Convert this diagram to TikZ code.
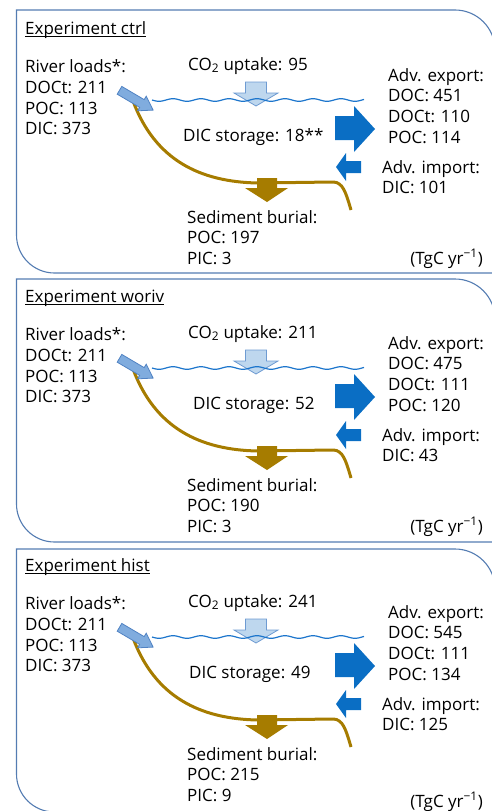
\documentclass[tikz,border=0pt]{standalone}
\usepackage{fontspec}
\setmainfont{Open Sans}
\definecolor{frameblue}{RGB}{84,124,178}
\definecolor{wavecol}{RGB}{28,117,204}
\definecolor{cotwofill}{RGB}{190,215,238}
\definecolor{cotwoline}{RGB}{110,155,210}
\definecolor{riverfill}{RGB}{128,172,222}
\definecolor{riverline}{RGB}{80,130,195}
\definecolor{advblue}{RGB}{10,110,196}
\definecolor{sedbrown}{RGB}{166,124,0}
\newcommand\rowtxt[1]{\hbox{#1}}
\newcommand\stk[1]{\vtop{\baselineskip=20.7pt\lineskiplimit=-20pt\lineskip=0pt #1}}
\tikzset{
  txt/.style={anchor=base west, inner sep=0pt, font=\fontsize{17}{20.7}\selectfont},
  panelframe/.style={draw=frameblue, line width=1.1pt},
  wavestyle/.style={draw=wavecol, line width=1.2pt},
  cotwoarrow/.style={draw=cotwoline, fill=cotwofill, line width=0.8pt},
  riverarrow/.style={draw=riverline, fill=riverfill, line width=0.8pt},
  advarrow/.style={fill=advblue},
  sedline/.style={draw=sedbrown, line width=3pt},
  sedarrow/.style={fill=sedbrown}
}
\begin{document}
\begin{tikzpicture}[x=1pt,y=-1pt]
\useasboundingbox (0,0) rectangle (492,811);
\clip (0,0) rectangle (492,811);
% panel frames
\foreach \ft/\fb in {10/273, 279/542, 549/812}{
  \draw[panelframe] (16.5,\ft) -- (455,\ft) arc[start angle=90,end angle=0,radius=40pt]
    -- (495,\fb) -- (54.5,\fb) arc[start angle=270,end angle=180,radius=38pt] -- cycle;
}
\foreach \i/\o/\ttl/\co/\da/\db/\dc/\st/\sx/\im/\bp/\pc/\ty in
  {1/0/ctrl/95/451/110/114/18**/183/101/197/3/264,
   2/268/woriv/211/475/111/120/52/193/43/190/3/264,
   3/537/hist/241/545/111/134/49/189/125/215/9/270}{
\begin{scope}[shift={(0,\o)}]
  % CO2 uptake arrow
  \draw[cotwoarrow] (245.5,82) -- (266.5,82) -- (266.5,93) -- (278,93) -- (256,106)
     -- (234,93) -- (245.5,93) -- cycle;
  % water surface
  \draw[wavestyle] plot[domain=152:364, samples=120, smooth] (\x, {100+1.3*sin((\x-152)*12.857)});
  % sediment curve
  \draw[sedline] (133,101) .. controls (155,160) and (200,182) .. (258,183)
     -- (333,182) .. controls (343,182) and (346,193) .. (351,210);
  % river arrow
  \begin{scope}[shift={(119.5,90.3)}, rotate=-30.5]
    \draw[riverarrow] (0,-4.5) -- (26,-4.5) -- (26,-8.5) -- (39,0) -- (26,8.5) -- (26,4.5) -- (0,4.5) -- cycle;
  \end{scope}
  % sediment burial arrow
  \fill[sedarrow] (257,178) -- (277,178) -- (277,188) -- (288,188) -- (267,202) -- (245,188) -- (257,188) -- cycle;
  % advective export / import arrows
  \fill[advarrow] (335,116) -- (354,116) -- (354,106) -- (375,129) -- (354,152) -- (354,140) -- (335,140) -- cycle;
  \fill[advarrow] (361,161) -- (346,161) -- (346,153) -- (336,167) -- (346,181) -- (346,173) -- (361,173) -- cycle;
  % texts
  \node[txt] (title-\i) at (25,34.5) {Experiment \ttl};
  \draw[line width=0.9pt] ([yshift=-1.6pt]title-\i.base west) -- ([yshift=-1.6pt]title-\i.base east);
  \node[txt] (river-\i) at (25,72.7) {\stk{\rowtxt{River loads*:}\rowtxt{DOCt: 211}\rowtxt{POC: 113}\rowtxt{DIC: 373}}};
  \node[txt] (co2-\i) at (188,70) {CO\textsubscript{2} uptake: \co};
  \node[txt] (export-\i) at (388,81) {\stk{\rowtxt{Adv. export:}\rowtxt{DOC: \da}\rowtxt{DOCt: \db}\rowtxt{POC: \dc}}};
  \node[txt] (storage-\i) at (\sx,141) {DIC storage: \st};
  \node[txt] (import-\i) at (382,173) {\stk{\rowtxt{Adv. import:}\rowtxt{DIC: \im}}};
  \node[txt] (burial-\i) at (187,223) {\stk{\rowtxt{Sediment burial:}\rowtxt{POC: \bp}\rowtxt{PIC: \pc}}};
  \node[txt, anchor=base east] (unit-\i) at (483,\ty) {(TgC yr\textsuperscript{−1})};
\end{scope}
}
\end{tikzpicture}
\end{document}
